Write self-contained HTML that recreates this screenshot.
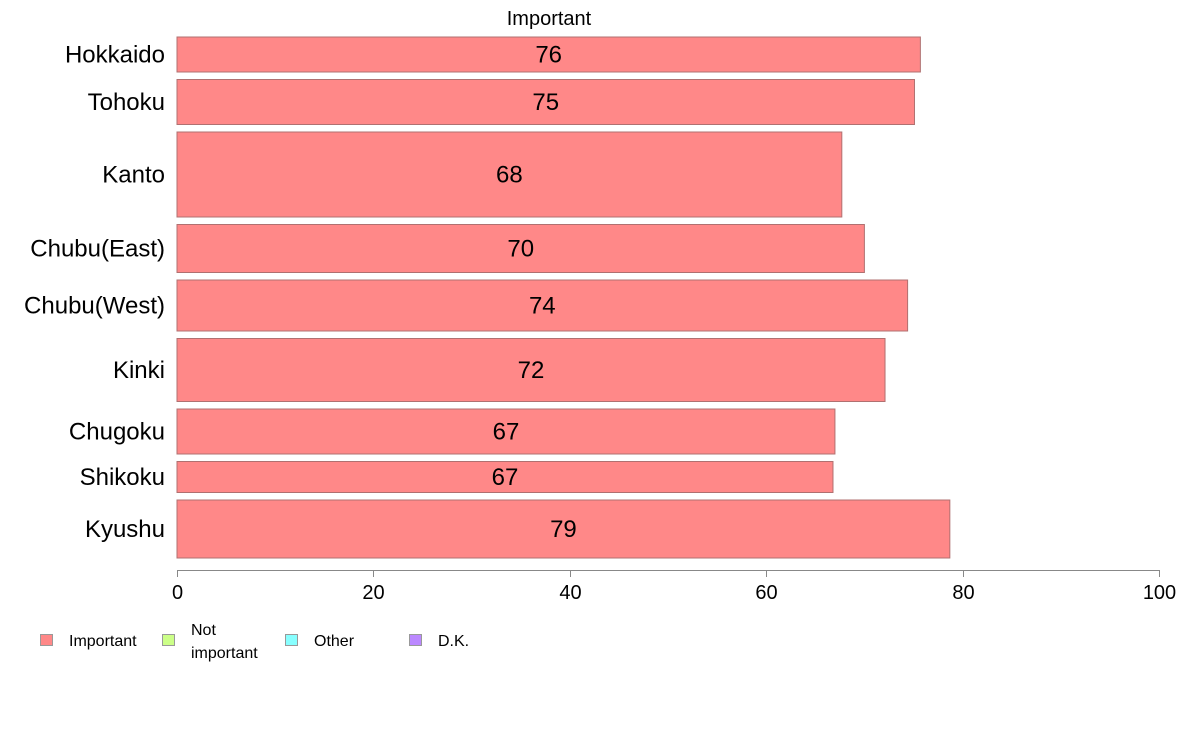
<!DOCTYPE html>
<html><head><meta charset="utf-8"><style>
body{margin:0;background:#fff;font-family:"Liberation Sans",Arial,sans-serif}
svg text{font-family:"Liberation Sans",Arial,sans-serif}
</style></head><body>
<svg id="chart" width="1188" height="736" viewBox="0 0 1188 736" xmlns="http://www.w3.org/2000/svg">
<text x="549" y="25" font-size="20" text-anchor="middle">Important</text>
<g id="bars"></g>
<g id="axis"></g>
<g id="legend"></g>
</svg>
<script>
const categories=["Hokkaido","Tohoku","Kanto","Chubu(East)","Chubu(West)","Kinki","Chugoku","Shikoku","Kyushu"];
const values=[75.7,75.1,67.7,70.0,74.4,72.1,67.0,66.8,78.7];
const sampleSizes=[35,45,85,48,51,63,45,31,58];
const tickLabels=[0,20,40,60,80,100];
const legendLabels=["Important","Not important","Other","D.K."];
const legendColors=["#ff8888","#ccff88","#88ffff","#bb88ff"];
const NS="http://www.w3.org/2000/svg";
const x0=177,x1=1159,top0=37,bottom0=558,gap=7.5;
const xs=v=>x0+(v-0)/(100-0)*(x1-x0);
const totalN=sampleSizes.reduce((a,b)=>a+b,0);
const scaleH=(bottom0-top0-gap*(categories.length-1))/totalN;
function mk(tag,attrs,parent){const e=document.createElementNS(NS,tag);for(const k in attrs)e.setAttribute(k,attrs[k]);parent.appendChild(e);return e;}
const bars=document.getElementById('bars');
let y=top0;
categories.forEach((c,i)=>{
  const h=sampleSizes[i]*scaleH;
  const r=mk('rect',{x:x0,y:y,width:xs(values[i])-x0,height:h,fill:"#ff8888",stroke:"#b07070","stroke-width":1},bars);
  
  
  const cy=y+h/2;
  const lab=mk('text',{x:165,y:cy+8,"font-size":24,"text-anchor":"end"},bars);
  lab.textContent=c;
  
  
  const vt=mk('text',{x:(x0+xs(values[i]))/2,y:cy+8,"font-size":24,"text-anchor":"middle"},bars);
  vt.textContent=Math.round(values[i]);
  
  
  y+=h+gap;
});
const axis=document.getElementById('axis');
const al=mk('line',{x1:x0,x2:x1,y1:570.5,y2:570.5,stroke:"#888","stroke-width":1},axis);


tickLabels.forEach(t=>{
  const tx=Math.round(xs(t))+0.5;
  const tl=mk('line',{x1:tx,x2:tx,y1:570,y2:577,stroke:"#888","stroke-width":1},axis);
  
  
  const tt=mk('text',{x:tx,y:599,"font-size":20,"text-anchor":"middle"},axis);
  tt.textContent=t;
  
  
});
const legend=document.getElementById('legend');
const lx=[40,162,285,409];
legendLabels.forEach((l,i)=>{
  const g=mk('g',{},legend);
  
  
  mk('rect',{x:lx[i]+0.5,y:634.5,width:12,height:11,fill:legendColors[i],stroke:"#999"},g);
  if(l==="Not important"){
    const t1=mk('text',{x:lx[i]+29,y:635,"font-size":16},g);t1.textContent="Not";
    const t2=mk('text',{x:lx[i]+29,y:658,"font-size":16},g);t2.textContent="important";
  } else {
    const t=mk('text',{x:lx[i]+29,y:646,"font-size":16},g);t.textContent=l;
  }
});
</script>
</body></html>
